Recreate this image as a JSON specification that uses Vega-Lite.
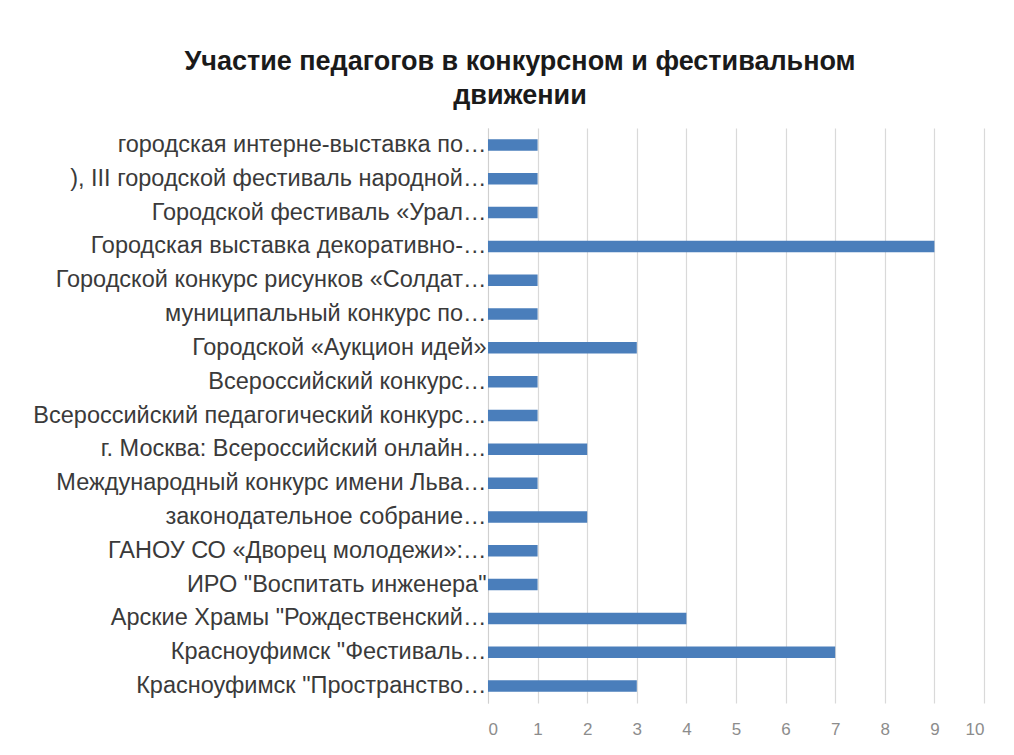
{
  "$schema": "https://vega.github.io/schema/vega-lite/v6.json",
  "autosize": {"type": "none"},
  "width": 496,
  "height": 575,
  "padding": {"left": 488, "top": 128, "right": 30, "bottom": 52},
  "background": "white",
  "title": {
    "text": ["Участие педагогов  в конкурсном и фестивальном", "движении"],
    "font": "Liberation Sans",
    "fontSize": 27,
    "fontWeight": "bold",
    "color": "#1a1a1a",
    "anchor": "middle",
    "dx": -216,
    "offset": 18,
    "lineHeight": 34
  },
  "data": {
    "values": [
      {"event": "городская интерне-выставка по…", "count": 1},
      {"event": "), III городской фестиваль народной…", "count": 1},
      {"event": "Городской фестиваль «Урал…", "count": 1},
      {"event": "Городская выставка декоративно-…", "count": 9},
      {"event": "Городской конкурс рисунков «Солдат…", "count": 1},
      {"event": "муниципальный  конкурс по…", "count": 1},
      {"event": "Городской «Аукцион идей»  ", "count": 3},
      {"event": "Всероссийский конкурс…", "count": 1},
      {"event": "Всероссийский педагогический конкурс…", "count": 1},
      {"event": "г. Москва:  Всероссийский онлайн…", "count": 2},
      {"event": "Международный конкурс имени Льва…", "count": 1},
      {"event": "законодательное собрание…", "count": 2},
      {"event": "ГАНОУ СО «Дворец молодежи»:…", "count": 1},
      {"event": "ИРО \"Воспитать инженера\"  ", "count": 1},
      {"event": "Арские Храмы \"Рождественский…", "count": 4},
      {"event": "Красноуфимск \"Фестиваль…", "count": 7},
      {"event": "Красноуфимск \"Пространство…", "count": 3}
    ]
  },
  "mark": {"type": "bar", "color": "#4a7ebb"},
  "encoding": {
    "y": {
      "field": "event",
      "type": "nominal",
      "sort": null,
      "scale": {"paddingInner": 0.66, "paddingOuter": 0.33},
      "axis": {
        "title": null,
        "labelFont": "Liberation Sans",
        "labelFontSize": 23.5,
        "labelColor": "#3a3a3a",
        "labelLimit": 0,
        "labelPadding": 2,
        "ticks": false,
        "domain": true,
        "domainColor": "#d0d0d0",
        "grid": false
      }
    },
    "x": {
      "field": "count",
      "type": "quantitative",
      "scale": {"domain": [0, 10], "nice": false},
      "axis": {
        "title": null,
        "values": [0, 1, 2, 3, 4, 5, 6, 7, 8, 9, 10],
        "labelFont": "Liberation Sans",
        "labelFontSize": 17,
        "labelColor": "#8c8c8c",
        "labelPadding": 18,
        "ticks": false,
        "domain": false,
        "grid": true,
        "gridColor": "#d9d9d9",
        "gridWidth": 1.2
      }
    }
  },
  "config": {"view": {"stroke": null}}
}
